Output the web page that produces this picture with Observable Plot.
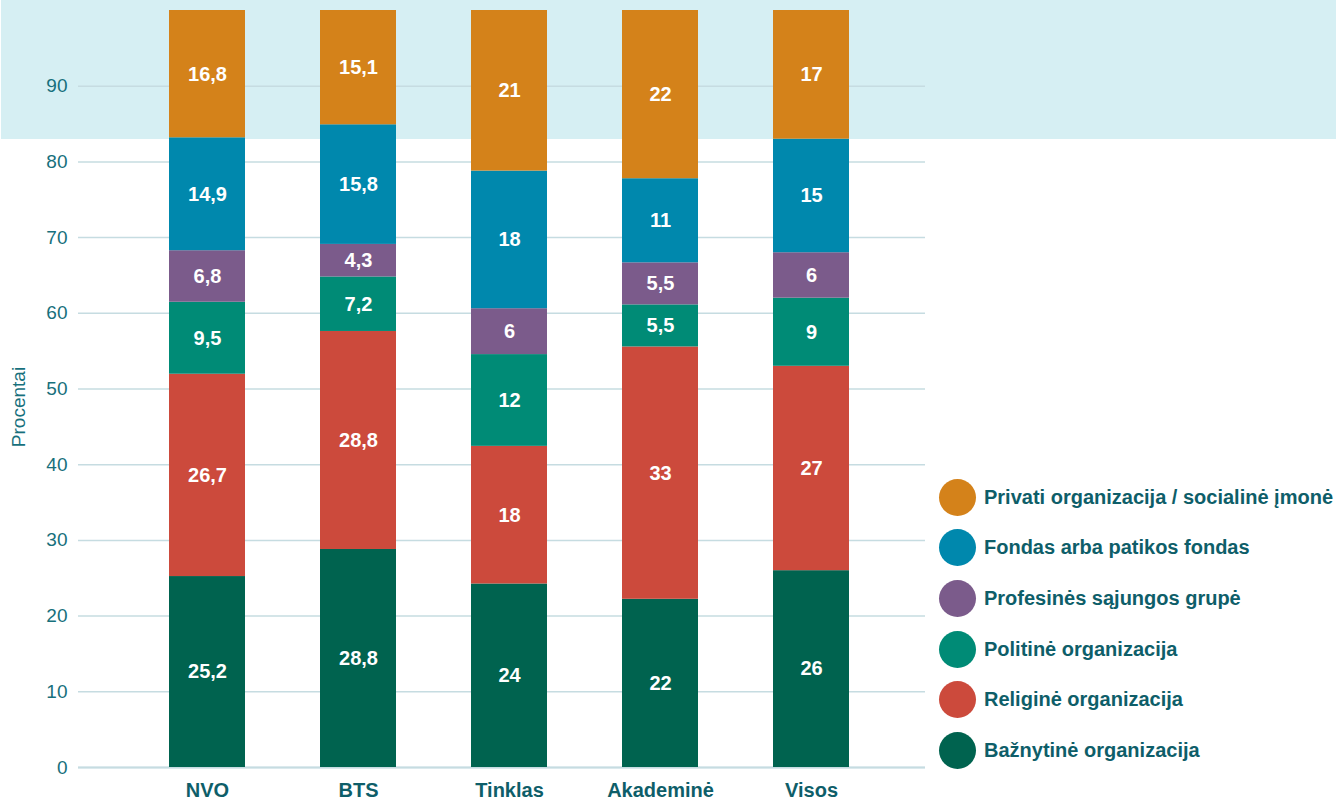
<!DOCTYPE html>
<html>
<head>
<meta charset="utf-8">
<script src="https://cdn.jsdelivr.net/npm/d3@7"></script>
<script src="https://cdn.jsdelivr.net/npm/@observablehq/plot@0.6"></script>
<style>
  html, body { margin: 0; padding: 0; background: #ffffff; }
  body { width: 1336px; height: 801px; overflow: hidden; position: relative; font-family: "Liberation Sans", Arial, sans-serif; }
  #band { position: absolute; left: 1px; top: 0; width: 1335px; height: 139px; background: #d6eff3; }
  #chart { position: absolute; left: 0; top: 0; }
  #legend { position: absolute; left: 939px; top: 472px; }
  .item { display: flex; align-items: center; height: 50.6px; }
  .sw { width: 37px; height: 37px; border-radius: 50%; margin-right: 8px; flex: none; }
  .lab { font-size: 20px; font-weight: bold; color: #0e5e69; white-space: nowrap; }
</style>
</head>
<body>
<div id="band"></div>
<div id="chart"></div>
<div id="legend"></div>
<script>
const categories = ["NVO", "BTS", "Tinklas", "Akademinė", "Visos"];
const seriesNames = [
  "Bažnytinė organizacija",
  "Religinė organizacija",
  "Politinė organizacija",
  "Profesinės sąjungos grupė",
  "Fondas arba patikos fondas",
  "Privati organizacija / socialinė įmonė"
];
const seriesColors = ["#00634f", "#cc4a3c", "#008b76", "#7b5b8b", "#0088ad", "#d4821a"];
const baznytine  = [25.2, 28.8, 24, 22, 26];
const religine   = [26.7, 28.8, 18, 33, 27];
const politine   = [9.5, 7.2, 12, 5.5, 9];
const profesines = [6.8, 4.3, 6, 5.5, 6];
const fondas     = [14.9, 15.8, 18, 11, 15];
const privati    = [16.8, 15.1, 21, 22, 17];
const yTickLabels = [0, 10, 20, 30, 40, 50, 60, 70, 80, 90];

const seriesValues = [baznytine, religine, politine, profesines, fondas, privati];
const data = [];
seriesNames.forEach((s, i) => {
  categories.forEach((c, j) => {
    data.push({category: c, series: s, value: seriesValues[i][j]});
  });
});
const fmt = v => String(v).replace(".", ",");
const yTicks = yTickLabels.map(v => v / 100);

const stackOpts = {x: "category", y: "value", fill: "series", order: seriesNames, offset: "normalize"};

const chart = Plot.plot({
  width: 935,
  height: 801,
  marginTop: 10,
  marginBottom: 34,
  marginLeft: 78,
  marginRight: 10,
  style: {background: "transparent", fontFamily: "Liberation Sans, Arial, sans-serif", color: "#17707c"},
  x: {domain: categories, range: [85, 932], paddingInner: 0.5, paddingOuter: 0.55, label: null},
  y: {domain: [0, 1], label: null},
  color: {domain: seriesNames, range: seriesColors},
  marks: [
    Plot.gridY(yTicks, {stroke: "#c6dce1", strokeOpacity: 1, strokeWidth: 1.5}),
    Plot.ruleY([0], {stroke: "#c6dce1", strokeWidth: 2}),
    Plot.barY(data, Plot.stackY(stackOpts)),
    Plot.text(data, Plot.stackY({...stackOpts, fill: null, z: "series", text: d => fmt(d.value)})),
    Plot.axisY(yTicks, {tickSize: 0, tickPadding: 11, fontSize: 19, label: null, fill: "#17707c", tickFormat: d => String(Math.round(d * 100))}),
    Plot.axisX({tickSize: 0, tickPadding: 15, fontSize: 20, fontWeight: "bold", label: null, fill: "#0e5e69"}),
    Plot.text(["Procentai"], {frameAnchor: "left", textAnchor: "middle", rotate: -90, dx: -60, dy: 18, fontSize: 19, fill: "#17707c"})
  ]
});
document.getElementById("chart").appendChild(chart);
document.getElementById("chart").querySelectorAll("svg g[aria-label='text']").forEach((g, i) => {
  if (i === 0) { g.setAttribute("fill", "#ffffff"); g.setAttribute("font-weight", "bold"); g.setAttribute("font-size", "20"); }
});

const legend = document.getElementById("legend");
seriesNames.slice().reverse().forEach((s) => {
  const i = seriesNames.indexOf(s);
  const item = document.createElement("div");
  item.className = "item";
  const sw = document.createElement("div");
  sw.className = "sw";
  sw.style.background = seriesColors[i];
  const lab = document.createElement("div");
  lab.className = "lab";
  lab.textContent = s;
  item.appendChild(sw);
  item.appendChild(lab);
  legend.appendChild(item);
});
</script>
</body>
</html>
